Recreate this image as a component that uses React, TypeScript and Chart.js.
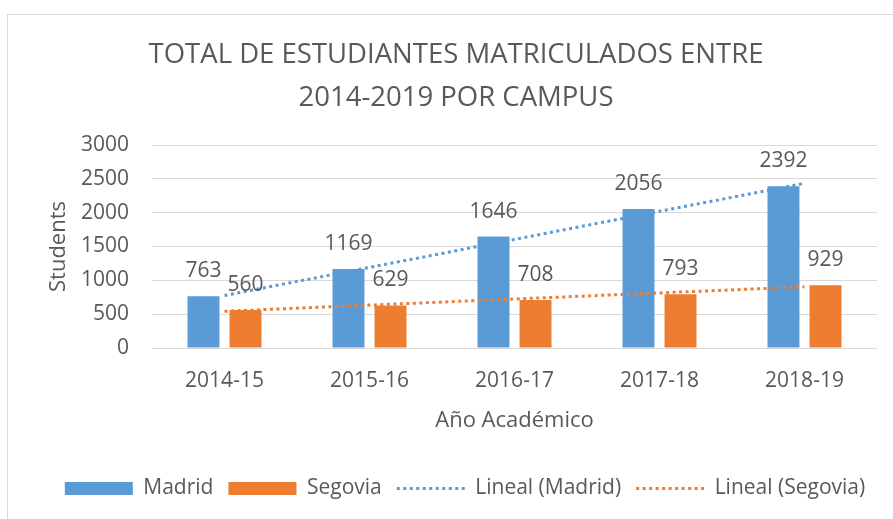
import React, { useEffect, useRef } from 'react';
import { Chart, registerables } from 'chart.js';

Chart.register(...registerables);

const categories = ['2014-15', '2015-16', '2016-17', '2017-18', '2018-19'];
const madrid = [763, 1169, 1646, 2056, 2392];
const segovia = [560, 629, 708, 793, 929];
const madridTrend = [776, 1191, 1605, 2020, 2434];
const segoviaTrend = [543, 634, 724, 814, 904];
const seriesNames = ['Madrid', 'Segovia', 'Lineal (Madrid)', 'Lineal (Segovia)'];
const titleLines = ['TOTAL DE ESTUDIANTES MATRICULADOS ENTRE', '2014-2019 POR CAMPUS'];
const xTitle = 'Año Académico';
const yTitle = 'Students';
const yMin = 0;
const yMax = 3000;
const yStep = 500;

const FONT = '"Open Sans", sans-serif';
const TEXT = '#595959';
const BLUE = '#5B9BD5';
const ORANGE = '#ED7D31';
const GRID = '#d9d9d9';
const DOT = [3, 3.5];

const barLabels = {
  id: 'barLabels',
  afterDatasetsDraw(chart: any) {
    const ctx = chart.ctx;
    ctx.save();
    ctx.font = `21px ${FONT}`;
    ctx.fillStyle = TEXT;
    ctx.textAlign = 'center';
    ctx.textBaseline = 'alphabetic';
    [0, 1].forEach((di) => {
      const meta = chart.getDatasetMeta(di);
      meta.data.forEach((el: any, i: number) => {
        ctx.fillText(String(chart.data.datasets[di].data[i]), el.x, el.y - 19);
      });
    });
    ctx.restore();
  },
};

const legendShift = {
  id: 'legendShift',
  afterLayout(chart: any) {
    if (chart.legend) {
      chart.legend.left += 9;
      chart.legend.right += 9;
    }
  },
};

export default function App() {
  const ref = useRef<HTMLCanvasElement>(null);
  useEffect(() => {
    document.body.style.margin = '0';
    const chart = new Chart(ref.current!, {
      type: 'bar',
      data: {
        labels: categories,
        datasets: [
          {
            label: seriesNames[0],
            data: madrid,
            backgroundColor: BLUE,
            order: 2,
            categoryPercentage: 0.58,
            barPercentage: 0.76,
          },
          {
            label: seriesNames[1],
            data: segovia,
            backgroundColor: ORANGE,
            order: 2,
            categoryPercentage: 0.58,
            barPercentage: 0.76,
          },
          {
            type: 'line',
            label: seriesNames[2],
            data: madridTrend,
            borderColor: BLUE,
            backgroundColor: BLUE,
            borderWidth: 3,
            borderDash: DOT,
            borderCapStyle: 'butt',
            pointRadius: 0,
            fill: false,
            order: 1,
          },
          {
            type: 'line',
            label: seriesNames[3],
            data: segoviaTrend,
            borderColor: ORANGE,
            backgroundColor: ORANGE,
            borderWidth: 3,
            borderDash: DOT,
            borderCapStyle: 'butt',
            pointRadius: 0,
            fill: false,
            order: 1,
          },
        ] as any,
      },
      options: {
        responsive: false,
        maintainAspectRatio: false,
        animation: false,
        events: [],
        layout: { padding: { left: 8, right: 16, top: 14, bottom: 10 } },
        plugins: {
          tooltip: { enabled: false },
          title: {
            display: true,
            text: titleLines,
            color: TEXT,
            font: { family: FONT, size: 27.5, weight: 'normal', lineHeight: 1.56 },
            padding: { top: 19.5, bottom: 25.7 },
          },
          legend: {
            display: true,
            position: 'bottom',
            labels: {
              usePointStyle: true,
              pointStyleWidth: 68,
              boxHeight: 13,
              padding: 15,
              color: TEXT,
              font: { family: FONT, size: 21 },
              generateLabels: (c: any) =>
                c.data.datasets.map((ds: any, i: number) => {
                  const isLine = ds.type === 'line';
                  return {
                    text: ds.label,
                    datasetIndex: i,
                    hidden: false,
                    fillStyle: isLine ? 'rgba(0,0,0,0)' : ds.backgroundColor,
                    strokeStyle: isLine ? ds.borderColor : ds.backgroundColor,
                    lineWidth: isLine ? 3 : 0,
                    lineDash: isLine ? DOT : [],
                    lineCap: 'butt',
                    pointStyle: isLine ? 'line' : 'rect',
                    fontColor: TEXT,
                  };
                }),
            },
          },
        },
        scales: {
          x: {
            grid: { display: false, drawTicks: false },
            border: { display: false },
            ticks: { padding: 20, color: TEXT, font: { family: FONT, size: 21 }, maxRotation: 0 },
            title: {
              display: true,
              text: xTitle,
              color: TEXT,
              font: { family: FONT, size: 22 },
              padding: { top: 0, bottom: 28.8 },
            },
            afterFit: (s: any) => {
              s.height = 115;
            },
          },
          y: {
            min: yMin,
            max: yMax,
            grid: { color: GRID, lineWidth: 1, drawTicks: false },
            border: { display: false },
            ticks: {
              stepSize: yStep,
              padding: 23,
              color: TEXT,
              font: { family: FONT, size: 21 },
              callback: (v: any) => String(v),
            },
            title: {
              display: true,
              text: yTitle,
              color: TEXT,
              font: { family: FONT, size: 22 },
              padding: { top: 37.3, bottom: 0 },
            },
            afterFit: (s: any) => {
              s.width = 144;
            },
          },
          y2: {
            position: 'right',
            display: true,
            grid: { display: false, drawTicks: false },
            border: { display: false },
            ticks: { display: false },
            afterFit: (s: any) => {
              s.width = 27;
            },
          },
        },
      } as any,
      plugins: [barLabels, legendShift],
    });
    return () => chart.destroy();
  }, []);

  return (
    <div style={{ position: 'relative', width: 893, height: 519, overflow: 'hidden', background: '#fff' }}>
      <div
        style={{
          position: 'absolute',
          left: 7,
          top: 14,
          width: 1000,
          height: 1000,
          borderLeft: '1px solid #d9d9d9',
          borderTop: '1px solid #d9d9d9',
        }}
      />
      <canvas
        ref={ref}
        width={920}
        height={519}
        style={{ position: 'absolute', left: 0, top: 0, width: 920, height: 519, display: 'block' }}
      />
    </div>
  );
}
